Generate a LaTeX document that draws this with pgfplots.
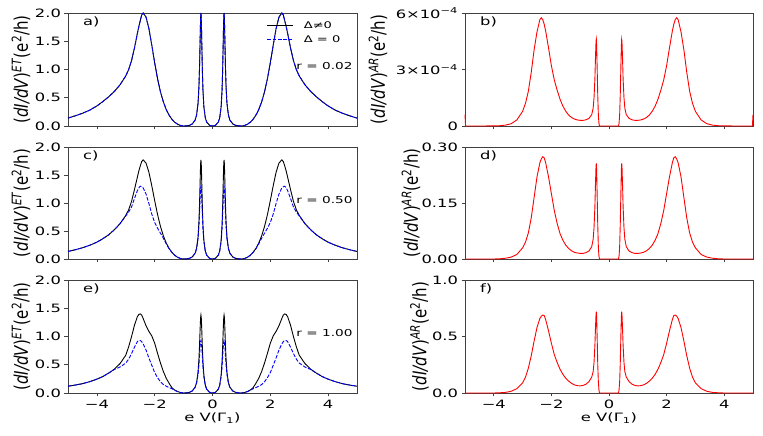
\documentclass[border=0pt]{standalone}
\usepackage{fontspec}
\setmainfont{DejaVu Sans}[FakeStretch=1.42]
\newfontfamily\ylabfont{DejaVu Sans}
\usepackage{graphicx}
\usepackage{pgfplots}
\usepackage{pgfplotstable}
\pgfplotsset{compat=1.18}

\pgfplotstableread{
x a cK cB eK eB
-5.0 0.14 0.135 0.135 0.12 0.12
-4.75 0.18 0.165 0.165 0.14 0.14
-4.5 0.225 0.20 0.20 0.165 0.165
-4.25 0.28 0.245 0.245 0.20 0.20
-4.0 0.355 0.30 0.30 0.245 0.245
-3.8 0.430 0.36 0.36 0.29 0.29
-3.6 0.514 0.43 0.43 0.35 0.35
-3.4 0.610 0.52 0.52 0.42 0.415
-3.2 0.729 0.63 0.63 0.52 0.46
-3.0 0.887 0.78 0.77 0.67 0.53
-2.9 1.0 0.88 0.84 0.82 0.60
-2.8 1.161 1.03 0.93 1.00 0.70
-2.7 1.380 1.24 1.08 1.20 0.81
-2.6 1.638 1.46 1.22 1.35 0.91
-2.55 1.759 1.57 1.27 1.39 0.93
-2.5 1.864 1.66 1.30 1.40 0.93
-2.45 1.965 1.74 1.29 1.38 0.91
-2.4 2.0 1.77 1.27 1.32 0.87
-2.3 1.928 1.714 1.16 1.19 0.76
-2.2 1.721 1.548 0.99 1.09 0.62
-2.1 1.428 1.306 0.80 1.01 0.49
-2.0 1.116 1.041 0.65 0.88 0.36
-1.9 0.834 0.791 0.55 0.70 0.27
-1.8 0.604 0.581 0.46 0.53 0.20
-1.7 0.426 0.413 0.37 0.38 0.15
-1.6 0.290 0.284 0.27 0.26 0.12
-1.5 0.190 0.187 0.18 0.17 0.095
-1.4 0.116 0.116 0.116 0.09 0.075
-1.3 0.064 0.064 0.064 0.05 0.045
-1.2 0.029 0.029 0.029 0.025 0.022
-1.1 0.0075 0.0075 0.0075 0.007 0.007
-1.0 0 0 0 0 0
-0.9 0.0025 0.0025 0.0025 0.0025 0.0025
-0.8 0.012 0.012 0.012 0.012 0.012
-0.7 0.037 0.037 0.0365 0.0365 0.036
-0.6 0.106 0.106 0.103 0.104 0.100
-0.55 0.195 0.193 0.185 0.187 0.175
-0.5 0.405 0.394 0.365 0.371 0.328
-0.47 0.687 0.658 0.580 0.595 0.493
-0.45 1.013 0.950 0.796 0.825 0.640
-0.43 1.478 1.349 1.058 1.110 0.799
-0.42 1.727 1.553 1.179 1.245 0.867
-0.41 1.923 1.709 1.267 1.343 0.913
-0.40 2.0 1.770 1.300 1.380 0.930
-0.39 1.923 1.709 1.267 1.343 0.913
-0.38 1.720 1.547 1.176 1.241 0.865
-0.37 1.458 1.332 1.047 1.098 0.793
-0.35 0.968 0.911 0.768 0.795 0.622
-0.33 0.631 0.606 0.539 0.553 0.463
-0.3 0.348 0.340 0.318 0.323 0.290
-0.25 0.1466 0.1452 0.1410 0.1419 0.1352
-0.2 0.0673 0.0670 0.0661 0.0663 0.0648
-0.1 0.0116 0.0116 0.0116 0.0116 0.0116
0 0 0 0 0 0
0.1 0.0116 0.0116 0.0116 0.0116 0.0116
0.2 0.0673 0.0670 0.0661 0.0663 0.0648
0.25 0.1466 0.1452 0.1410 0.1419 0.1352
0.3 0.348 0.340 0.318 0.323 0.290
0.33 0.631 0.606 0.539 0.553 0.463
0.35 0.968 0.911 0.768 0.795 0.622
0.37 1.458 1.332 1.047 1.098 0.793
0.38 1.720 1.547 1.176 1.241 0.865
0.39 1.923 1.709 1.267 1.343 0.913
0.40 2.0 1.770 1.300 1.380 0.930
0.41 1.923 1.709 1.267 1.343 0.913
0.42 1.727 1.553 1.179 1.245 0.867
0.43 1.478 1.349 1.058 1.110 0.799
0.45 1.013 0.950 0.796 0.825 0.640
0.47 0.687 0.658 0.580 0.595 0.493
0.5 0.405 0.394 0.365 0.371 0.328
0.55 0.195 0.193 0.185 0.187 0.175
0.6 0.106 0.106 0.103 0.104 0.100
0.7 0.037 0.037 0.0365 0.0365 0.036
0.8 0.012 0.012 0.012 0.012 0.012
0.9 0.0025 0.0025 0.0025 0.0025 0.0025
1.0 0 0 0 0 0
1.1 0.0075 0.0075 0.0075 0.007 0.007
1.2 0.029 0.029 0.029 0.025 0.022
1.3 0.064 0.064 0.064 0.05 0.045
1.4 0.116 0.116 0.116 0.09 0.075
1.5 0.190 0.187 0.18 0.17 0.095
1.6 0.290 0.284 0.27 0.26 0.12
1.7 0.426 0.413 0.37 0.38 0.15
1.8 0.604 0.581 0.46 0.53 0.20
1.9 0.834 0.791 0.55 0.70 0.27
2.0 1.116 1.041 0.65 0.88 0.36
2.1 1.428 1.306 0.80 1.01 0.49
2.2 1.721 1.548 0.99 1.09 0.62
2.3 1.928 1.714 1.16 1.19 0.76
2.4 2.0 1.77 1.27 1.32 0.87
2.45 1.965 1.74 1.29 1.38 0.91
2.5 1.864 1.66 1.30 1.40 0.93
2.55 1.759 1.57 1.27 1.39 0.93
2.6 1.638 1.46 1.22 1.35 0.91
2.7 1.380 1.24 1.08 1.20 0.81
2.8 1.161 1.03 0.93 1.00 0.70
2.9 1.0 0.88 0.84 0.82 0.60
3.0 0.887 0.78 0.77 0.67 0.53
3.2 0.729 0.63 0.63 0.52 0.46
3.4 0.610 0.52 0.52 0.42 0.415
3.6 0.514 0.43 0.43 0.35 0.35
3.8 0.430 0.36 0.36 0.29 0.29
4.0 0.355 0.30 0.30 0.245 0.245
4.25 0.28 0.245 0.245 0.20 0.20
4.5 0.225 0.20 0.20 0.165 0.165
4.75 0.18 0.165 0.165 0.14 0.14
5.0 0.14 0.135 0.135 0.12 0.12
}\tabL

\pgfplotstableread{
x b d f
-5.0 0.6 0 0
-4.98 0 0 0
-4.5 0 0 0
-4.0 0.005 0 0
-3.8 0.015 0.0005 0.002
-3.6 0.045 0.002 0.005
-3.4 0.12 0.005 0.015
-3.2 0.32 0.012 0.038
-3.0 0.78 0.03 0.09
-2.9 1.2 0.045 0.14
-2.8 1.85 0.07 0.22
-2.7 2.85 0.11 0.33
-2.6 4.05 0.165 0.46
-2.5 5.0 0.22 0.58
-2.4 5.65 0.258 0.66
-2.35 5.75 0.268 0.68
-2.3 5.65 0.274 0.69
-2.25 5.4 0.271 0.685
-2.2 5.05 0.258 0.65
-2.1 4.15 0.22 0.55
-2.0 3.2 0.175 0.44
-1.9 2.45 0.13 0.34
-1.8 1.9 0.095 0.27
-1.7 1.42 0.068 0.21
-1.6 1.05 0.05 0.165
-1.5 0.78 0.037 0.13
-1.4 0.58 0.028 0.105
-1.3 0.45 0.022 0.085
-1.2 0.37 0.018 0.072
-1.1 0.32 0.016 0.065
-1.0 0.30 0.015 0.063
-0.9 0.30 0.015 0.067
-0.8 0.33 0.017 0.078
-0.7 0.40 0.021 0.10
-0.6 0.60 0.033 0.14
-0.55 0.95 0.053 0.19
-0.52 1.5 0.084 0.27
-0.49 2.5 0.14 0.42
-0.47 3.6 0.20 0.57
-0.45 4.5 0.25 0.70
-0.44 4.6 0.256 0.72
-0.43 4.3 0.24 0.68
-0.41 3.0 0.167 0.48
-0.39 1.6 0.089 0.25
-0.37 0.6 0.033 0.10
-0.35 0.15 0.008 0.03
-0.33 0 0 0
0 0 0 0
0.33 0 0 0
0.35 0.15 0.008 0.03
0.37 0.6 0.033 0.10
0.39 1.6 0.089 0.25
0.41 3.0 0.167 0.48
0.43 4.3 0.24 0.68
0.44 4.6 0.256 0.72
0.45 4.5 0.25 0.70
0.47 3.6 0.20 0.57
0.49 2.5 0.14 0.42
0.52 1.5 0.084 0.27
0.55 0.95 0.053 0.19
0.6 0.60 0.033 0.14
0.7 0.40 0.021 0.10
0.8 0.33 0.017 0.078
0.9 0.30 0.015 0.067
1.0 0.30 0.015 0.063
1.1 0.32 0.016 0.065
1.2 0.37 0.018 0.072
1.3 0.45 0.022 0.085
1.4 0.58 0.028 0.105
1.5 0.78 0.037 0.13
1.6 1.05 0.05 0.165
1.7 1.42 0.068 0.21
1.8 1.9 0.095 0.27
1.9 2.45 0.13 0.34
2.0 3.2 0.175 0.44
2.1 4.15 0.22 0.55
2.2 5.05 0.258 0.65
2.25 5.4 0.271 0.685
2.3 5.65 0.274 0.69
2.35 5.75 0.268 0.68
2.4 5.65 0.258 0.66
2.5 5.0 0.22 0.58
2.6 4.05 0.165 0.46
2.7 2.85 0.11 0.33
2.8 1.85 0.07 0.22
2.9 1.2 0.045 0.14
3.0 0.78 0.03 0.09
3.2 0.32 0.012 0.038
3.4 0.12 0.005 0.015
3.6 0.045 0.002 0.005
3.8 0.015 0.0005 0.002
4.0 0.005 0 0
4.5 0 0 0
4.98 0 0 0
5.0 0.6 0 0
}\tabR

\newcommand{\ETlabel}{\ylabfont\fontsize{15}{16}\selectfont\scalebox{1}[1.25]{(\textit{dI/dV})\textsuperscript{\textit{ET}}(e\textsuperscript{2}/h)}}
\newcommand{\ARlabel}{\ylabfont\fontsize{15}{16}\selectfont\scalebox{1}[1.25]{(\textit{dI/dV})\textsuperscript{\textit{AR}}(e\textsuperscript{2}/h)}}

\pgfplotsset{
  panel/.style={
    anchor=south west,
    width=289pt, height=113pt, scale only axis,
    xmin=-5, xmax=5,
    axis line style={black!75, line width=0.8pt},
    every tick/.style={black!75, line width=0.8pt},
    tick align=outside, tick pos=left,
    major tick length=3.5pt,
    xtick={-4,-2,0,2,4},
    xticklabels={},
    tick label style={font=\fontsize{11.5}{12}\selectfont},
    clip=false,
    ymin=0,
  },
  leftpanel/.style={panel,
    ymax=2, ytick={0,0.5,1,1.5,2}, yticklabels={0.0,0.5,1.0,1.5,2.0},
    ylabel={\ETlabel},
    ylabel style={at={(axis description cs:-0.163,0.5)}, anchor=center},
  },
  rightpanel/.style={panel, width=288pt,
    ylabel={\ARlabel},
    ylabel style={at={(axis description cs:#1,0.5)}, anchor=center},
  },
  bottomrow/.style={
    xticklabels={−4,−2,0,2,4},
    xlabel={e V(Γ\textsubscript{1})},
    xlabel style={at={(axis description cs:0.5,-0.221)}, anchor=center, font=\fontsize{11.5}{12}\selectfont},
  },
  blk/.style={black, line width=0.9pt},
  blu/.style={blue, line width=0.9pt, dash pattern=on 3.7pt off 1.6pt},
  rd/.style={red, line width=0.9pt},
}
\newcommand{\panellabel}[1]{\node[anchor=north west, inner sep=0pt, font=\fontsize{11.5}{12}\selectfont] at (axis description cs:0.052,0.965) {#1};}
\newcommand{\rlabel}[1]{\node[anchor=east, inner sep=0pt, font=\fontsize{9.6}{10}\selectfont] at (axis description cs:0.985,0.53) {#1};}

\begin{document}
\begin{tikzpicture}
\path[use as bounding box] (0pt,0pt) rectangle (763pt,436pt);

% a)
\begin{axis}[leftpanel, at={(68pt,310pt)},
  legend style={draw=none, fill=none, at={(axis description cs:0.95,0.945)}, anchor=north east,
    font=\fontsize{9.2}{10}\selectfont, inner sep=0pt, row sep=1.5pt,
    /tikz/every odd column/.append style={column sep=8pt}},
  legend cell align=left,
  legend image code/.code={\draw[#1] (0pt,0pt) -- (26pt,0pt);},
]
\addplot[blk] table[x=x,y=a] {\tabL};
\addlegendentry{Δ≠0}
\addplot[blu] table[x=x,y=a] {\tabL};
\addlegendentry{Δ = 0}
\panellabel{a)}
\rlabel{r = 0.02}
\end{axis}

% b)
\begin{axis}[rightpanel=-0.302, at={(465pt,310pt)},
  ymax=6, ytick={0,3,6}, yticklabels={0,{3×10\textsuperscript{−4}},{6×10\textsuperscript{−4}}}]
\addplot[rd] table[x=x,y=b] {\tabR};
\panellabel{b)}
\end{axis}

% c)
\begin{axis}[leftpanel, at={(68pt,177pt)}, height=112pt]
\addplot[blk] table[x=x,y=cK] {\tabL};
\addplot[blu] table[x=x,y=cB] {\tabL};
\panellabel{c)}
\rlabel{r = 0.50}
\end{axis}

% d)
\begin{axis}[rightpanel=-0.1875, at={(465pt,177pt)}, height=112pt,
  ymax=0.30, ytick={0,0.15,0.30}, yticklabels={0.00,0.15,0.30}]
\addplot[rd] table[x=x,y=d] {\tabR};
\panellabel{d)}
\end{axis}

% e)
\begin{axis}[leftpanel, bottomrow, at={(68pt,43pt)}]
\addplot[blk] table[x=x,y=eK] {\tabL};
\addplot[blu] table[x=x,y=eB] {\tabL};
\panellabel{e)}
\rlabel{r = 1.00}
\end{axis}

% f)
\begin{axis}[rightpanel=-0.158, bottomrow, at={(465pt,43pt)},
  ymax=1, ytick={0,0.5,1}, yticklabels={0.0,0.5,1.0}]
\addplot[rd] table[x=x,y=f] {\tabR};
\panellabel{f)}
\end{axis}
\end{tikzpicture}
\end{document}
